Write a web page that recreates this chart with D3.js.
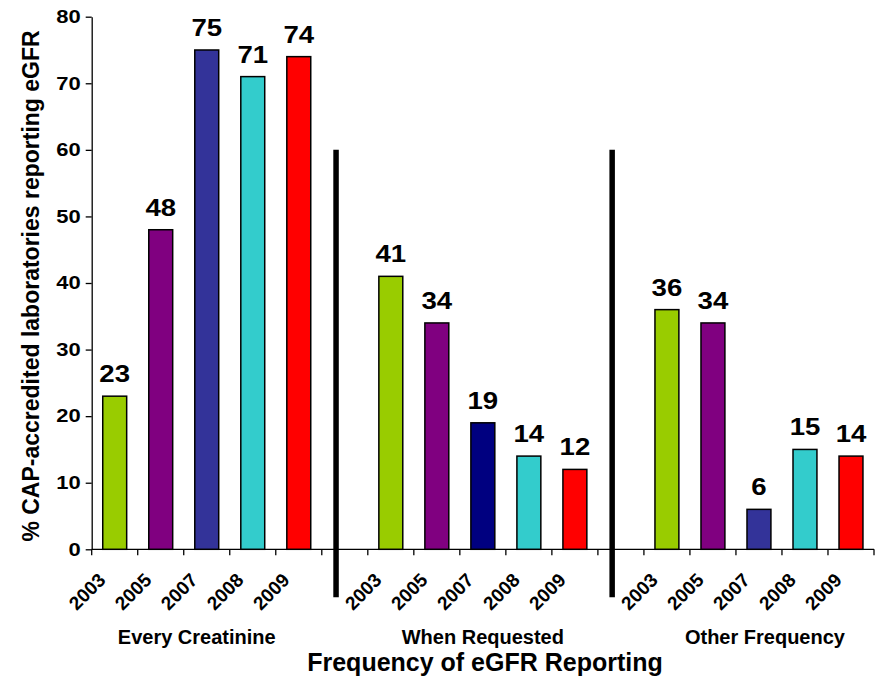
<!DOCTYPE html>
<html>
<head>
<meta charset="utf-8">
<script src="https://cdn.jsdelivr.net/npm/d3@7/dist/d3.min.js"></script>
<style>
  html, body { margin: 0; padding: 0; background: #fff; }
  svg { display: block; font-family: "Liberation Sans", Arial, sans-serif; font-weight: bold; }
</style>
</head>
<body>
<svg id="chart" width="877" height="684"></svg>
<script>
// Survey years shown in every reporting-frequency group
const years = ["2003", "2005", "2007", "2008", "2009"];
// Reporting-frequency groups
const groups = ["Every Creatinine", "When Requested", "Other Frequency"];
// % of CAP-accredited laboratories, per group, in year order
const everyCreatinine = [23, 48, 75, 71, 74];
const whenRequested = [41, 34, 19, 14, 12];
const otherFrequency = [36, 34, 6, 15, 14];
const groupValues = [everyCreatinine, whenRequested, otherFrequency];
// Y axis ticks
const yTicks = [0, 10, 20, 30, 40, 50, 60, 70, 80];

const xTitle = "Frequency of eGFR Reporting";
const yTitle = "% CAP-accredited laboratories reporting eGFR";

// Fill per year; the 2007 "When Requested" bar is a darker navy
const yearColor = { "2003": "#99CC00", "2005": "#800080", "2007": "#333399", "2008": "#33CCCC", "2009": "#FF0000" };
const specialColor = { "When Requested|2007": "#000080" };

const W = 877, H = 684;
const margin = { top: 16.7, right: 3, bottom: 134.7, left: 91.7 };
const innerW = W - margin.left - margin.right;
const innerH = H - margin.top - margin.bottom;

const svg = d3.select("#chart");
const g = svg.append("g").attr("transform", `translate(${margin.left},${margin.top})`);

// Slots: five years per group with an empty spacer slot between groups
const slots = [];
const records = [];
groups.forEach((grp, gi) => {
  years.forEach((yr, yi) => {
    const key = grp + "|" + yr;
    slots.push(key);
    records.push({ key, group: grp, year: yr, value: groupValues[gi][yi] });
  });
  if (gi < groups.length - 1) slots.push("gap" + gi);
});

const x = d3.scaleBand().domain(slots).range([0, innerW]).padding(0);
const y = d3.scaleLinear().domain([0, 80]).range([innerH, 0]);
const bw = x.bandwidth();

// Y axis (labels slightly widened, like the rest of the chart's lettering)
const numStretch = 1.22;
const yAxis = g.append("g")
  .call(d3.axisLeft(y).tickValues(yTicks).tickSize(6).tickSizeOuter(0));
yAxis.select(".domain").attr("stroke", "#000").attr("stroke-width", 1.3);
yAxis.selectAll(".tick line").attr("stroke", "#000").attr("stroke-width", 1.3);
yAxis.selectAll(".tick text")
  .attr("font-size", 18).attr("font-weight", "bold")
  .attr("font-family", "Liberation Sans, Arial, sans-serif").attr("fill", "#000")
  .attr("x", -11 / numStretch)
  .attr("transform", `scale(${numStretch},1)`);

// X axis baseline and slot-edge ticks
g.append("line")
  .attr("x1", 0).attr("x2", innerW).attr("y1", y(0)).attr("y2", y(0))
  .attr("stroke", "#000").attr("stroke-width", 1.3);
const edges = slots.map(s => x(s)).concat([innerW]);
g.selectAll(".xtick").data(edges).join("line")
  .attr("x1", d => d).attr("x2", d => d)
  .attr("y1", y(0)).attr("y2", y(0) + 6)
  .attr("stroke", "#000").attr("stroke-width", 1.3);

// Bars
const inset = bw * 0.24;
g.selectAll(".bar").data(records).join("rect")
  .attr("x", d => x(d.key) + inset)
  .attr("width", bw - 2 * inset)
  .attr("y", d => y(d.value))
  .attr("height", d => y(0) - y(d.value))
  .attr("fill", d => specialColor[d.key] || yearColor[d.year])
  .attr("stroke", "#000").attr("stroke-width", 1.5);

// Value labels
g.selectAll(".val").data(records).join("text")
  .attr("transform", d => `translate(${x(d.key) + bw / 2},${y(d.value) - 14}) scale(1.15,1)`)
  .attr("text-anchor", "middle")
  .attr("font-size", 24).attr("fill", "#000")
  .text(d => d.value);

// Year tick labels, rotated
g.selectAll(".yr").data(records).join("text")
  .attr("transform", d => `translate(${x(d.key) + bw / 2 - 8},${y(0) + 32}) rotate(-45)`)
  .attr("text-anchor", "end")
  .attr("font-size", 19).attr("fill", "#000")
  .text(d => d.year);

// Separators between groups
const sepTop = y(60), sepBottom = y(0) + 48;
g.selectAll(".sep").data(slots.filter(s => s.startsWith("gap"))).join("line")
  .attr("x1", s => x(s) + bw * 0.31).attr("x2", s => x(s) + bw * 0.31)
  .attr("y1", sepTop).attr("y2", sepBottom)
  .attr("stroke", "#000").attr("stroke-width", 5.5);

// Group names
const groupShift = [-10, 0, 6];
g.selectAll(".grp").data(groups).join("text")
  .attr("x", (grp, i) => {
    const first = x(grp + "|" + years[0]);
    const last = x(grp + "|" + years[years.length - 1]) + bw;
    return (first + last) / 2 + groupShift[i];
  })
  .attr("y", y(0) + 94.5)
  .attr("text-anchor", "middle")
  .attr("font-size", 20).attr("fill", "#000")
  .text(d => d);

// Axis titles
svg.append("text")
  .attr("x", 485).attr("y", 671)
  .attr("text-anchor", "middle")
  .attr("font-size", 25).attr("fill", "#000")
  .text(xTitle);

svg.append("text")
  .attr("transform", `translate(39,286) rotate(-90)`)
  .attr("text-anchor", "middle")
  .attr("font-size", 23).attr("fill", "#000")
  .text(yTitle);
</script>
</body>
</html>
